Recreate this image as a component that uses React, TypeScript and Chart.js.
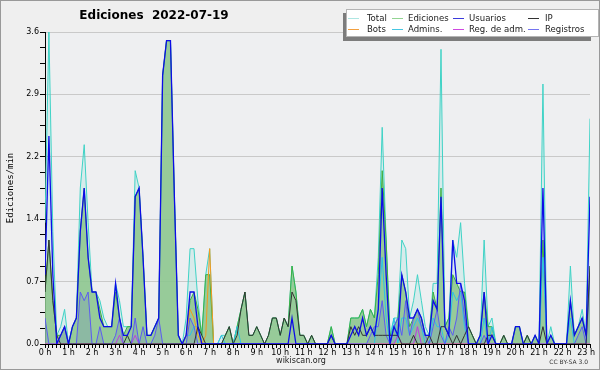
import React, { useEffect, useRef } from 'react';
import { Chart, registerables } from 'chart.js';

Chart.register(...registerables);

const TITLE = 'Ediciones  2022-07-19';
const Y_TITLE = 'Ediciones/min';
const SLOTS_PER_HOUR = 6; // one value every 10 minutes

// Edits per minute, one value per 10-minute slot (0:00 .. 23:10)
const total = [
  1.4, 3.6, 1.3, 0.1, 0.2, 0.4, 0, 0.2, 0.3, 1.8,
  2.3, 1.4, 0.6, 0.6, 0.5, 0.3, 0.2, 0.2, 0.7, 0.5,
  0.2, 0.2, 0.2, 2.0, 1.8, 1.0, 0.1, 0.1, 0.2, 0.3,
  3.1, 3.5, 3.5, 1.7, 0.1, 0, 0.3, 1.1, 1.1, 0.5,
  0.1, 0.8, 1.1, 0, 0, 0.1, 0.1, 0.2, 0, 0.2,
  0.4, 0.6, 0.1, 0.1, 0.2, 0.1, 0, 0.1, 0.3, 0.3,
  0.1, 0.3, 0.2, 0.9, 0.6, 0.1, 0.1, 0, 0.1, 0,
  0, 0, 0, 0.2, 0, 0, 0, 0, 0.3, 0.3,
  0.3, 0.4, 0.2, 0.4, 0.3, 1.0, 2.5, 1.2, 0.1, 0.3,
  0.3, 1.2, 1.1, 0.3, 0.5, 0.8, 0.5, 0.2, 0.1, 0.7,
  0.7, 3.4, 0.2, 0.3, 1.2, 1.0, 1.4, 0.7, 0.2, 0.1,
  0, 0.1, 1.2, 0.2, 0.3, 0, 0, 0.1, 0, 0,
  0.2, 0.2, 0, 0.1, 0, 0.1, 0, 3.0, 0, 0.2,
  0, 0, 0, 0, 0.9, 0.1, 0.2, 0.4, 0.1, 2.6,
];

const ediciones = [
  0.6, 1.2, 0.5, 0.1, 0.1, 0.2, 0, 0.2, 0.3, 1.3,
  1.8, 1.0, 0.6, 0.6, 0.4, 0.2, 0.2, 0.2, 0.6, 0.3,
  0.1, 0.2, 0.2, 1.7, 1.8, 1.0, 0.1, 0.1, 0.2, 0.3,
  3.1, 3.5, 3.5, 1.7, 0.1, 0, 0.1, 0.5, 0.6, 0.4,
  0.1, 0.8, 0.8, 0, 0, 0, 0.1, 0.2, 0, 0.2,
  0.4, 0.6, 0.1, 0.1, 0.2, 0.1, 0, 0.1, 0.3, 0.3,
  0.1, 0.3, 0.2, 0.9, 0.6, 0.1, 0.1, 0, 0.1, 0,
  0, 0, 0, 0.2, 0, 0, 0, 0, 0.3, 0.3,
  0.3, 0.4, 0.2, 0.4, 0.3, 0.8, 2.0, 1.2, 0.1, 0.2,
  0.3, 0.8, 0.6, 0.2, 0.3, 0.4, 0.3, 0.1, 0.1, 0.6,
  0.4, 1.8, 0.2, 0.3, 0.8, 0.7, 0.6, 0.6, 0.2, 0.1,
  0, 0.1, 0.6, 0.2, 0.2, 0, 0, 0.1, 0, 0,
  0.2, 0.2, 0, 0.1, 0, 0.1, 0, 1.2, 0, 0.1,
  0, 0, 0, 0, 0.5, 0.1, 0.2, 0.3, 0.1, 0.9,
];

const usuarios = [
  0.8, 2.4, 0.8, 0, 0.1, 0.2, 0, 0.2, 0.3, 1.3,
  1.8, 1.0, 0.6, 0.6, 0.3, 0.2, 0.2, 0.2, 0.7, 0.3,
  0.1, 0.1, 0.2, 1.7, 1.8, 1.0, 0.1, 0.1, 0.2, 0.3,
  3.1, 3.5, 3.5, 1.7, 0.1, 0, 0.1, 0.6, 0.6, 0.2,
  0, 0, 0, 0, 0, 0, 0, 0, 0, 0,
  0, 0, 0, 0, 0, 0, 0, 0, 0, 0,
  0, 0, 0, 0.3, 0, 0, 0, 0, 0, 0,
  0, 0, 0, 0.1, 0, 0, 0, 0, 0.1, 0.2,
  0.1, 0.3, 0.1, 0.2, 0.1, 0.4, 1.8, 0.8, 0, 0.2,
  0.1, 0.8, 0.6, 0.3, 0.3, 0.4, 0.3, 0.1, 0.1, 0.5,
  0.4, 1.7, 0.2, 0.1, 1.2, 0.7, 0.7, 0.5, 0, 0,
  0, 0.1, 0.6, 0, 0.1, 0, 0, 0, 0, 0,
  0.2, 0.2, 0, 0, 0, 0.1, 0, 1.8, 0, 0.1,
  0, 0, 0, 0, 0.5, 0.1, 0.2, 0.3, 0.1, 1.7,
];

const ip = [
  0.6, 1.2, 0.5, 0.1, 0, 0, 0, 0, 0, 0,
  0, 0, 0, 0, 0, 0, 0, 0, 0, 0,
  0, 0.1, 0, 0, 0, 0, 0, 0, 0, 0,
  0, 0, 0, 0, 0, 0, 0, 0, 0, 0.2,
  0.1, 0, 0, 0, 0, 0, 0.1, 0.2, 0, 0.1,
  0.4, 0.6, 0.1, 0.1, 0.2, 0.1, 0, 0.1, 0.3, 0.3,
  0.1, 0.3, 0.2, 0.6, 0.5, 0.1, 0.1, 0, 0.1, 0,
  0, 0, 0, 0.1, 0, 0, 0, 0, 0.2, 0.1,
  0.2, 0.1, 0.1, 0.2, 0.1, 0.1, 0.1, 0.1, 0.1, 0.1,
  0.1, 0, 0, 0, 0.1, 0, 0, 0, 0.1, 0,
  0, 0.2, 0.2, 0.1, 0, 0.1, 0, 0.1, 0.2, 0.1,
  0, 0, 0, 0.1, 0.1, 0, 0, 0.1, 0, 0,
  0, 0, 0, 0.1, 0, 0, 0, 0.2, 0, 0,
  0, 0, 0, 0, 0, 0, 0, 0, 0, 0.9,
];

const bots = [
  0, 0, 0, 0, 0, 0, 0, 0, 0, 0,
  0, 0, 0, 0, 0, 0, 0, 0, 0, 0,
  0, 0, 0, 0, 0, 0, 0, 0, 0, 0,
  0, 0, 0, 0, 0, 0, 0.1, 0.4, 0.3, 0.1,
  0, 0.1, 1.1, 0, 0, 0, 0, 0, 0, 0,
  0, 0, 0, 0, 0, 0, 0, 0, 0, 0,
  0, 0, 0, 0, 0, 0, 0, 0, 0, 0,
  0, 0, 0, 0, 0, 0, 0, 0, 0, 0,
  0, 0, 0, 0, 0, 0, 0, 0, 0, 0,
  0, 0, 0, 0, 0, 0, 0, 0, 0, 0,
  0, 0, 0, 0, 0, 0, 0, 0, 0, 0,
  0, 0, 0, 0, 0, 0, 0, 0, 0, 0,
  0, 0, 0, 0, 0, 0, 0, 0, 0, 0,
  0, 0, 0, 0, 0, 0, 0, 0, 0, 0,
];

const admins = [
  0, 0, 0, 0, 0, 0, 0, 0, 0, 0,
  0, 0, 0, 0, 0, 0, 0, 0, 0, 0,
  0, 0, 0, 0, 0, 0, 0, 0, 0, 0,
  0, 0, 0, 0, 0, 0, 0.1, 0.1, 0.2, 0.2,
  0, 0, 0, 0, 0, 0.1, 0, 0, 0, 0.2,
  0, 0, 0, 0, 0, 0, 0, 0, 0, 0,
  0, 0, 0, 0, 0, 0, 0, 0, 0, 0,
  0, 0, 0, 0, 0, 0, 0, 0, 0, 0,
  0, 0, 0, 0, 0, 0.4, 1.0, 0.3, 0, 0.3,
  0, 0.3, 0.3, 0.1, 0.2, 0.3, 0.2, 0, 0, 0.3,
  0.2, 0.2, 0, 0.1, 0.6, 0.5, 0.6, 0.2, 0, 0,
  0, 0, 0.3, 0, 0.2, 0, 0, 0, 0, 0,
  0, 0, 0, 0, 0, 0, 0, 1.0, 0, 0,
  0, 0, 0, 0, 0.3, 0, 0, 0, 0, 0,
];

const regAdm = [
  0, 0, 0, 0, 0, 0, 0, 0, 0, 0,
  0, 0, 0, 0, 0, 0, 0, 0, 0, 0.1,
  0, 0, 0, 0.1, 0, 0, 0, 0, 0, 0,
  0, 0, 0, 0, 0, 0, 0, 0, 0, 0,
  0, 0, 0, 0, 0, 0, 0, 0, 0, 0,
  0, 0, 0, 0, 0, 0, 0, 0, 0, 0,
  0, 0, 0, 0, 0, 0, 0, 0, 0, 0,
  0, 0, 0, 0, 0, 0, 0, 0, 0, 0,
  0, 0, 0, 0, 0, 0, 0, 0, 0, 0,
  0.1, 0, 0, 0, 0, 0.2, 0, 0, 0, 0,
  0, 0, 0, 0, 0, 0, 0, 0, 0, 0,
  0, 0, 0, 0, 0, 0, 0, 0, 0, 0,
  0, 0, 0, 0, 0, 0, 0, 0, 0, 0,
  0, 0, 0, 0, 0, 0, 0, 0, 0, 0,
];

const registros = [
  0.3, 0, 0, 0, 0.1, 0.2, 0, 0, 0, 0.6,
  0.5, 0.6, 0, 0, 0.2, 0, 0, 0, 0.1, 0.3,
  0, 0, 0, 0.3, 0, 0.2, 0, 0, 0.1, 0.3,
  0, 0, 0, 0, 0, 0, 0, 0.3, 0.2, 0,
  0, 0, 0, 0, 0, 0, 0, 0, 0, 0,
  0, 0, 0, 0, 0, 0, 0, 0, 0, 0,
  0, 0, 0, 0, 0, 0, 0, 0, 0, 0,
  0, 0, 0, 0, 0, 0, 0, 0, 0, 0,
  0, 0, 0, 0.1, 0.2, 0.2, 0.5, 0.1, 0, 0.2,
  0.3, 0.1, 0.5, 0.1, 0.3, 0.4, 0.2, 0.1, 0, 0.2,
  0.4, 0.1, 0, 0.2, 0.1, 0.3, 0.7, 0.3, 0, 0,
  0, 0, 0.1, 0, 0, 0, 0, 0, 0, 0,
  0, 0, 0, 0, 0, 0, 0, 0, 0, 0,
  0, 0, 0, 0, 0, 0, 0.1, 0.2, 0, 0.8,
];

const Y_MAX = 3.6;
const Y_STEP = 0.18; // minor tick; every 4th is labelled

// legend layout: rows of labels (order as in the reference)
const legendRows = [
  ['Total', 'Ediciones', 'Usuarios', 'IP'],
  ['Bots', 'Admins.', 'Reg. de adm.', 'Registros'],
];
const legendColors: Record<string, string> = {
  Total: '#aee6e2',
  Ediciones: '#92d492',
  Usuarios: '#3b3bdc',
  IP: '#333333',
  Bots: '#f2a040',
  'Admins.': '#46c6e2',
  'Reg. de adm.': '#cf48e0',
  Registros: '#7474f0',
};

const FONT = '"DejaVu Sans", "Noto Sans", sans-serif';

const decor = {
  id: 'decor',
  beforeDraw(chart: any) {
    const { ctx, chartArea: a, width, height } = chart;
    ctx.save();
    ctx.fillStyle = '#efefef';
    ctx.fillRect(0, 0, width, height);
    ctx.fillStyle = '#eeeff1';
    ctx.fillRect(a.left, a.top, a.right - a.left, a.bottom - a.top);
    ctx.restore();
  },
  afterDraw(chart: any) {
    const { ctx, width, height } = chart;
    ctx.save();
    // title
    ctx.fillStyle = '#000';
    ctx.font = `bold 12px ${FONT}`;
    ctx.textAlign = 'center';
    ctx.textBaseline = 'middle';
    ctx.fillText(TITLE, 154, 16);

    // legend shadow + box
    ctx.fillStyle = '#7c7c7c';
    ctx.fillRect(343, 13, 248, 28);
    ctx.fillStyle = '#ffffff';
    ctx.fillRect(346, 9, 253, 28);
    ctx.strokeStyle = '#b4b4b4';
    ctx.lineWidth = 1;
    ctx.strokeRect(346.5, 9.5, 252, 27);

    const colLine = [348, 392, 453, 528];
    const colText = [367, 408, 469, 545];
    const rowY = [18, 29];
    ctx.font = `9.5px "DejaVu Sans Condensed", ${FONT}`;
    ctx.textAlign = 'left';
    legendRows.forEach((row, r) => {
      row.forEach((label, c) => {
        ctx.strokeStyle = legendColors[label];
        ctx.beginPath();
        ctx.moveTo(colLine[c], rowY[r] + 0.5);
        ctx.lineTo(colLine[c] + 11, rowY[r] + 0.5);
        ctx.stroke();
        ctx.fillStyle = '#222';
        ctx.fillText(label, colText[c], rowY[r] + 0.5);
      });
    });

    // footer
    ctx.fillStyle = '#222';
    ctx.font = `8px ${FONT}`;
    ctx.textAlign = 'center';
    ctx.fillText('wikiscan.org', 301, 361);
    ctx.font = `6px ${FONT}`;
    ctx.textAlign = 'right';
    ctx.fillStyle = '#333';
    ctx.fillText('CC BY-SA 3.0', 588, 362);

    // frame
    ctx.strokeStyle = '#999999';
    ctx.lineWidth = 1;
    ctx.strokeRect(0.5, 0.5, width - 1, height - 1);
    ctx.restore();
  },
};

export default function App() {
  const ref = useRef<HTMLCanvasElement>(null);

  useEffect(() => {
    document.body.style.margin = '0';
    const pts = (arr: number[]) => arr.map((y, i) => ({ x: i, y }));
    const line = (
      label: string,
      data: number[],
      color: string,
      order: number,
      fill: false | string,
      bg = 'transparent',
      width = 1
    ) => ({
      label,
      data: pts(data),
      borderColor: color,
      backgroundColor: bg,
      borderWidth: width,
      pointRadius: 0,
      tension: 0,
      fill: fill ? 'origin' : false,
      order,
    });

    const chart = new Chart(ref.current as HTMLCanvasElement, {
      type: 'line',
      data: {
        datasets: [
          line('Usuarios', usuarios, '#0c0ce8', 1, false, 'transparent', 1.3),
          line('IP', ip, '#333333', 2, false),
          line('Registros', registros, '#5c5cf2', 3, 'origin', 'rgba(80,80,230,0.14)'),
          line('Reg. de adm.', regAdm, '#c03ce0', 4, false),
          line('Bots', bots, '#f39a1e', 5, false),
          line('Admins.', admins, '#2cc4e4', 6, false),
          line('Ediciones', ediciones, '#3cb043', 7, 'origin', 'rgba(140,198,140,0.86)'),
          line('Total', total, '#3fd3c6', 8, 'origin', 'rgba(64,210,200,0.13)'),
        ] as any,
      },
      options: {
        responsive: false,
        animation: false,
        events: [],
        layout: { padding: { top: 32, right: 10, left: 0, bottom: 0 } },
        plugins: {
          legend: { display: false },
          title: { display: false },
          tooltip: { enabled: false },
          filler: { drawTime: 'beforeDatasetsDraw' } as any,
        },
        scales: {
          x: {
            type: 'linear',
            min: 0,
            max: total.length - 1,
            z: 1,
            afterFit: (s: any) => {
              s.height = 26;
            },
            border: { display: true, color: '#000', width: 1 },
            grid: {
              drawOnChartArea: false,
              drawTicks: true,
              tickLength: 4,
              tickColor: '#000',
            },
            ticks: {
              stepSize: 1,
              autoSkip: false,
              maxRotation: 0,
              minRotation: 0,
              padding: 0,
              color: '#000',
              font: { family: FONT, size: 8 },
              callback: (v: any) =>
                Number(v) % SLOTS_PER_HOUR === 0 ? `${Number(v) / SLOTS_PER_HOUR} h` : '',
            },
          },
          y: {
            min: 0,
            max: Y_MAX,
            afterFit: (s: any) => {
              s.width = 45;
            },
            border: { display: true, color: '#000', width: 1 },
            grid: {
              color: (c: any) => (c.index % 4 === 0 ? '#c9c9c9' : 'rgba(0,0,0,0)'),
              drawTicks: true,
              tickLength: 5,
              tickColor: '#000',
            },
            title: {
              display: true,
              text: Y_TITLE,
              color: '#000',
              font: { family: '"DejaVu Sans Mono", monospace', size: 9 },
              padding: { top: 5, bottom: 0 },
            },
            ticks: {
              stepSize: Y_STEP,
              autoSkip: false,
              padding: 1,
              color: '#000',
              font: { family: FONT, size: 8 },
              callback: (v: any, i: number) => (i % 4 === 0 ? Number(v).toFixed(1) : ''),
            },
          },
        },
      },
      plugins: [decor],
    });
    return () => chart.destroy();
  }, []);

  return (
    <canvas
      ref={ref}
      width={600}
      height={370}
      style={{ display: 'block', width: 600, height: 370 }}
    />
  );
}
